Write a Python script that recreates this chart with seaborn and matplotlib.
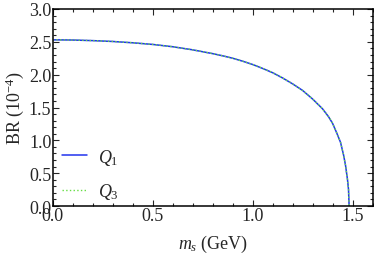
import matplotlib
matplotlib.use("Agg")
import matplotlib.pyplot as plt
from matplotlib.ticker import MultipleLocator, FormatStrFormatter
import seaborn as sns

# values
m_s = [0.0, 0.1, 0.2, 0.3, 0.4, 0.5, 0.6, 0.7, 0.8, 0.85, 0.9, 0.95, 1.0, 1.05,
       1.1, 1.15, 1.2, 1.25, 1.3, 1.35, 1.38, 1.4, 1.42, 1.44, 1.455, 1.465,
       1.475, 1.48, 1.483]
br_q1 = [2.53, 2.527, 2.518, 2.505, 2.485, 2.46, 2.425, 2.378, 2.32, 2.287, 2.25,
         2.205, 2.155, 2.095, 2.03, 1.95, 1.86, 1.76, 1.63, 1.48, 1.36, 1.26,
         1.12, 0.97, 0.78, 0.62, 0.40, 0.25, 0.0]
br_q3 = br_q1  # Q3 sits on top of Q1

sns.set_style("ticks")
plt.rcParams["font.family"] = ["Liberation Serif", "DejaVu Serif"]
plt.rcParams["mathtext.fontset"] = "custom"
plt.rcParams["mathtext.rm"] = "Liberation Serif"
plt.rcParams["mathtext.it"] = "Liberation Serif:italic"
plt.rcParams["font.size"] = 13

fig = plt.figure(figsize=(3.74, 2.55), dpi=100)
ax = fig.add_axes([0.141, 0.188, 0.855, 0.773])

sns.lineplot(x=m_s, y=br_q1, ax=ax, color="#2233ee", lw=1.1, label="$Q_1$")
sns.lineplot(x=m_s, y=br_q3, ax=ax, color="#66dd44", lw=1.0, ls=":", label="$Q_3$")

ax.set_xlim(0, 1.6)
ax.set_ylim(0, 3.0)
ax.xaxis.set_major_locator(MultipleLocator(0.5))
ax.xaxis.set_minor_locator(MultipleLocator(0.1))
ax.yaxis.set_major_locator(MultipleLocator(0.5))
ax.yaxis.set_minor_locator(MultipleLocator(0.1))
ax.xaxis.set_major_formatter(FormatStrFormatter("%.1f"))
ax.yaxis.set_major_formatter(FormatStrFormatter("%.1f"))
ax.tick_params(which="both", direction="in", top=True, right=True, width=0.8,
               labelsize=13, pad=1)
ax.tick_params(which="major", length=4)
ax.tick_params(which="minor", length=2)
for sp in ax.spines.values():
    sp.set_linewidth(1.1)
    sp.set_color("black")

ax.set_xlabel("$m_s$ (GeV)", fontsize=13, labelpad=6)
ax.set_ylabel("BR ($10^{-4}$)", fontsize=13, labelpad=2)

ax.legend(loc="lower left", bbox_to_anchor=(0.012, -0.003), frameon=False,
          handlelength=1.4, labelspacing=0.8, handletextpad=0.6,
          borderaxespad=0.0, borderpad=0.3, fontsize=13)

fig.savefig("out.png", dpi=100)
